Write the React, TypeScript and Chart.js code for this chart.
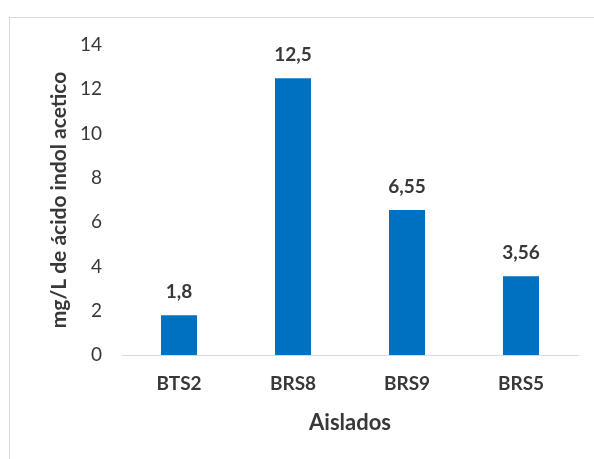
import React, { useEffect, useRef } from "react";
import { Chart, registerables } from "chart.js";

Chart.register(...registerables);

const categories = ["BTS2", "BRS8", "BRS9", "BRS5"];
const values = [1.8, 12.5, 6.55, 3.56];
const yTicks = [0, 2, 4, 6, 8, 10, 12, 14];
const yTitle = "mg/L de ácido indol acetico";
const xTitle = "Aislados";

const FONT = "Lato, 'Open Sans', sans-serif";
const TEXT = "#383838";

const valueLabels = {
  id: "valueLabels",
  afterDatasetsDraw(chart: any) {
    const ctx = chart.ctx;
    const meta = chart.getDatasetMeta(0);
    ctx.save();
    ctx.font = `bold 19px ${FONT}`;
    ctx.fillStyle = TEXT;
    ctx.textAlign = "center";
    ctx.textBaseline = "middle";
    meta.data.forEach((el: any, i: number) => {
      const txt = String(values[i]).replace(".", ",");
      ctx.fillText(txt, el.x, el.y - 23);
    });
    ctx.restore();
  },
};

export default function App() {
  const ref = useRef<HTMLCanvasElement>(null);
  useEffect(() => {
    document.body.style.margin = "0";
    const chart = new Chart(ref.current as HTMLCanvasElement, {
      type: "bar",
      data: {
        labels: categories,
        datasets: [
          {
            data: values,
            backgroundColor: "#0070C0",
            borderWidth: 0,
            categoryPercentage: 1,
            barPercentage: 0.316,
          },
        ],
      },
      options: {
        animation: false,
        responsive: false,
        maintainAspectRatio: false,
        layout: { padding: { left: 47, top: 45, right: 16, bottom: 23 } },
        plugins: { legend: { display: false }, tooltip: { enabled: false } },
        scales: {
          x: {
            grid: { display: false, drawTicks: false },
            border: { display: true, color: "#d9d9d9", width: 1 },
            ticks: {
              padding: 17,
              color: TEXT,
              font: { family: FONT, size: 19, weight: "bold" },
            },
            title: {
              display: true,
              text: xTitle,
              color: TEXT,
              padding: { top: 4, bottom: 0 },
              font: { family: FONT, size: 22, weight: "bold" },
            },
            afterFit: (s: any) => {
              s.height = 81;
            },
          },
          y: {
            min: 0,
            max: 14,
            afterBuildTicks: (s: any) => {
              s.ticks = yTicks.map((v) => ({ value: v }));
            },
            grid: { display: false, drawTicks: false },
            border: { display: false },
            ticks: {
              padding: 20,
              color: TEXT,
              font: { family: FONT, size: 19 },
            },
            title: {
              display: true,
              text: yTitle,
              color: TEXT,
              padding: { top: 0, bottom: 0 },
              font: { family: FONT, size: 21, weight: "bold" },
            },
            afterFit: (s: any) => {
              s.width = 75;
            },
          },
        },
      },
      plugins: [valueLabels],
    });
    return () => chart.destroy();
  }, []);
  return (
    <div style={{ position: "relative", width: 594, height: 459, background: "#fff", overflow: "hidden" }}>
      <div
        style={{
          position: "absolute",
          left: 9,
          top: 17,
          right: -2,
          bottom: -2,
          borderLeft: "1px solid #d9d9d9",
          borderTop: "1px solid #d9d9d9",
        }}
      />
      <canvas ref={ref} width={594} height={459} style={{ position: "absolute", left: 0, top: 0 }} />
    </div>
  );
}
